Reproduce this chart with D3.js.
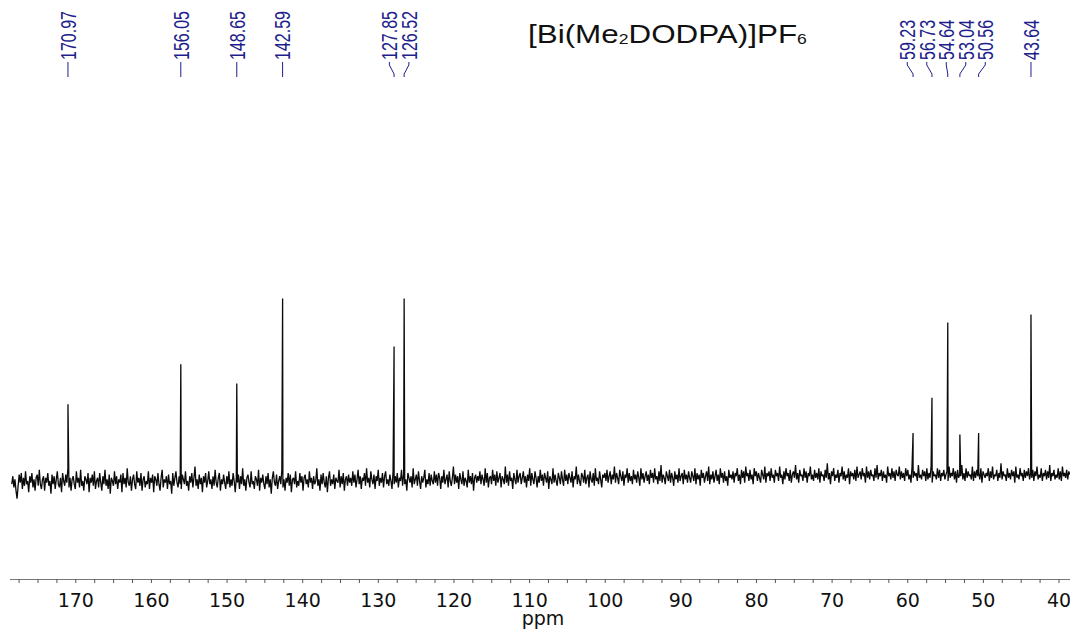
<!DOCTYPE html>
<html>
<head>
<meta charset="utf-8">
<script src="https://cdn.jsdelivr.net/npm/d3@7"></script>
<style>
  body { margin: 0; background: #fff; }
  svg { display: block; }
</style>
</head>
<body>
<svg id="chart" width="1070" height="632"></svg>
<script>
// peaks (ppm, height above baseline in intensity units)
const peakPpm = [170.97, 156.05, 148.65, 142.59, 127.85, 126.52, 59.23, 56.73, 54.64, 53.04, 50.56, 43.64];
const peakHeight = [48, 73, 61, 114, 84, 114, 30, 52, 99, 29, 30, 104];
const peakLabels = ["170.97", "156.05", "148.65", "142.59", "127.85", "126.52", "59.23", "56.73", "54.64", "53.04", "50.56", "43.64"];

const tickLabels = [170, 160, 150, 140, 130, 120, 110, 100, 90, 80, 70, 60, 50, 40];

// baseline noise, left (178.4 ppm) to right (38.5 ppm)
const noiseStart = 178.4;
const noiseEnd = 38.5;
const noise = [
  -2,3,-4,1,-6,-11,-3,4,-1,5,-5,2,-3,6,-2,0,-7,3,-1,5,-4,1,-6,2,4,-3,7,-2,-5,1,3,-6,2,-1,5,-3,0,-8,4,-2,
  3,-5,1,6,-2,-4,2,-7,5,0,-3,4,-1,8,-4,2,-6,1,3,-2,-5,6,-1,2,-4,7,-3,0,-6,3,1,-2,5,-7,2,-1,4,-3,6,-5,
  0,2,-4,5,-1,-6,3,-2,7,-3,1,-5,4,-8,2,0,-3,6,-2,3,-5,1,-1,4,-7,5,-2,2,-4,8,-1,-3,3,-6,1,4,-2,-5,6,-1,
  2,-3,5,-6,1,3,-4,0,-2,6,-5,2,-1,4,-7,3,1,-3,5,-2,-6,2,7,-4,1,-1,3,-5,4,-2,0,-8,5,-3,2,6,-1,-4,3,-2,
  -5,4,1,-2,6,-3,0,-6,3,-1,5,-4,2,9,-3,1,-5,4,-2,2,-7,3,-1,5,-4,0,6,-2,1,-5,3,-3,7,-1,-4,2,5,-6,1,-2,
  4,-1,-5,3,-2,6,-4,1,-3,5,0,-7,2,-1,4,-5,3,-2,8,-3,1,-6,2,4,-1,-4,6,-2,0,-5,3,1,-3,7,-6,2,-1,4,-2,-5,
  3,-2,5,-4,1,-8,2,6,-1,-3,4,-5,0,3,-2,7,-4,1,-6,2,-1,5,-3,4,-7,1,2,-2,6,-4,0,-3,5,-1,3,-6,2,4,-2,1,
  -4,6,-1,2,-5,3,-2,0,8,-3,1,-6,4,-2,5,-1,-4,3,-7,2,6,-3,1,-2,4,-5,2,0,-1,7,-4,3,-2,5,-6,1,3,-3,4,-1,
  2,-3,6,-1,4,-4,1,7,-2,3,-5,2,0,5,-3,8,-1,2,-4,6,1,-2,4,-5,3,0,7,-3,2,-1,5,-4,3,6,-2,1,-3,4,0,-5,
  6,-2,3,-1,5,-4,2,0,7,-3,4,-2,1,-6,5,2,-1,3,-4,8,-2,1,4,-3,6,0,-5,3,-1,2,7,-4,1,-2,5,-3,4,0,-2,6,
  -1,4,-3,5,2,-5,3,-1,7,-2,1,4,-4,6,0,-3,2,9,-2,4,-1,3,-5,5,1,-2,6,-3,2,0,-4,7,-1,3,-2,5,-6,2,4,-1,
  3,0,6,-2,4,1,-3,8,-1,5,-4,2,3,-2,7,0,4,-3,6,-1,2,5,-4,3,1,-2,9,-1,4,-3,6,0,2,-5,5,1,-2,7,-1,3,
  5,-2,2,6,-1,3,-4,4,0,8,-3,5,1,-2,6,2,-4,3,-1,7,0,4,-3,5,2,-1,6,-5,3,1,-2,8,-1,4,0,-3,5,2,-2,6,
  1,-3,7,0,4,-2,5,2,-1,6,-4,3,1,9,-2,4,0,-3,5,3,-1,7,-2,2,4,-4,6,1,-1,5,-3,8,0,2,-2,6,1,-4,4,2,
  5,0,7,-1,3,6,-2,4,1,9,-1,5,2,-2,7,3,0,6,-3,4,2,8,-1,5,0,3,-2,7,1,4,-1,6,2,-3,8,1,5,-1,3,6,
  0,4,-2,7,2,5,-1,8,1,3,-2,6,0,10,-1,4,2,-2,6,3,0,7,-1,5,2,-3,6,1,4,-1,8,0,3,5,-2,7,1,4,-1,6,
  2,-1,6,3,0,8,-2,5,1,4,-3,7,2,5,-1,3,6,0,9,-2,4,1,6,-1,3,7,0,4,-2,8,2,5,-1,6,0,3,-3,7,2,4,
  1,6,-1,5,3,8,0,4,-2,7,2,6,-1,9,3,5,0,7,1,4,-2,8,3,6,0,5,2,-1,7,4,1,9,-1,5,3,6,0,8,2,4,
  -1,7,3,5,0,9,2,4,-2,6,1,8,3,5,0,7,-1,4,6,2,10,1,5,-1,7,3,4,0,8,2,6,-1,5,3,9,1,4,0,7,2,
  5,1,8,-1,6,3,4,0,7,2,11,1,5,-2,6,3,8,0,4,2,7,-1,5,3,9,1,6,0,4,2,8,-2,6,3,5,1,7,0,9,2,
  4,6,1,8,3,5,-1,9,2,6,1,7,3,4,0,8,2,10,1,5,3,7,0,6,2,4,-1,9,3,5,1,8,2,6,0,7,4,3,9,1,
  6,2,5,0,8,3,7,1,4,-1,9,2,6,3,5,0,10,2,4,1,7,3,6,0,8,1,5,2,9,-1,6,3,4,1,8,2,7,0,5,3,
  7,1,4,6,0,9,2,5,3,8,1,6,-1,7,2,4,3,10,1,5,0,8,2,6,3,4,1,9,0,6,2,7,3,5,1,8,-1,6,4,2,
  5,3,8,0,6,2,9,1,4,3,7,0,5,2,11,1,6,3,4,0,8,2,5,1,7,3,6,-1,9,2,4,1,8,3,5,0,7,2,6,3,
  8,1,5,2,7,0,6,3,9,1,4,2,8,0,5,3,7,1,6,2,10,0,5,3,7,1,4,2,8,1,6,0,9,3,5,2,7,1,6,4
];

const titleText = [
  { t: "[Bi(Me", sub: false },
  { t: "2", sub: true },
  { t: "DODPA)]PF", sub: false },
  { t: "6", sub: true }
];

const W = 1070, H = 632;
const labelColor = "#1e1e8c";

const svg = d3.select("#chart");

const x = d3.scaleLinear().domain([170, 40]).range([75.3, 1058.5]);
const y = d3.scaleLinear().domain([0, 100]).range([481, 321]);

// build spectrum: noise points plus the peak tops, sorted by ppm
const step = (noiseStart - noiseEnd) / (noise.length - 1);
const spectrum = noise.map((v, i) => ({ ppm: noiseStart - i * step, v: v }));
peakPpm.forEach((p, i) => spectrum.push({ ppm: p, v: peakHeight[i] }));
spectrum.sort((a, b) => b.ppm - a.ppm);

const line = d3.line().x(d => x(d.ppm)).y(d => y(d.v));

svg.append("path")
  .datum(spectrum)
  .attr("fill", "none")
  .attr("stroke", "#0a0a0a")
  .attr("stroke-width", 1.3)
  .attr("stroke-linejoin", "bevel")
  .attr("d", line);

// axis
const axisY = 579;
svg.append("line")
  .attr("x1", 10).attr("x2", W)
  .attr("y1", axisY + 0.5).attr("y2", axisY + 0.5)
  .attr("stroke", "#777")
  .attr("stroke-width", 1);

const axis = d3.axisBottom(x)
  .tickValues(d3.range(40, 178, 2.5))
  .tickSize(4)
  .tickPadding(11)
  .tickFormat(d => tickLabels.includes(d) ? d : "");

const gAxis = svg.append("g")
  .attr("transform", `translate(0, ${axisY})`)
  .call(axis);

gAxis.select(".domain").remove();
gAxis.selectAll(".tick line").attr("stroke", "#555");
gAxis.selectAll(".tick text")
  .attr("fill", "#111")
  .style("font-family", "'DejaVu Sans', Verdana, sans-serif")
  .style("font-size", "19px");

svg.append("text")
  .attr("x", 543)
  .attr("y", 625)
  .attr("text-anchor", "middle")
  .attr("fill", "#111")
  .style("font-family", "'DejaVu Sans', Verdana, sans-serif")
  .style("font-size", "19px")
  .text("ppm");

// peak labels, spread apart where they crowd
function spreadLabels(xs, gap) {
  let groups = xs.map(v => ({ members: [v], c: v }));
  let merged = true;
  while (merged) {
    merged = false;
    for (let i = 0; i < groups.length - 1; i++) {
      const a = groups[i], b = groups[i + 1];
      const aEnd = a.c + (a.members.length - 1) * gap / 2;
      const bStart = b.c - (b.members.length - 1) * gap / 2;
      if (bStart - aEnd < gap) {
        const members = a.members.concat(b.members);
        groups.splice(i, 2, { members: members, c: d3.mean(members) });
        merged = true;
        break;
      }
    }
  }
  const out = [];
  groups.forEach(g => g.members.forEach((m, k) => out.push(g.c + (k - (g.members.length - 1) / 2) * gap)));
  return out;
}

const peakX = peakPpm.map(p => x(p));
const labelX = spreadLabels(peakX, 19.5);

const gLab = svg.append("g");
peakLabels.forEach((lab, i) => {
  gLab.append("text")
    .attr("transform", `translate(${labelX[i]}, 60) scale(1.35, 1) rotate(-90)`)
    .attr("dy", "0.36em")
    .attr("fill", labelColor)
    .style("font-family", "'Liberation Sans', Arial, sans-serif")
    .style("font-size", "16px")
    .text(lab);

  const lx = labelX[i], px = peakX[i];
  gLab.append("path")
    .attr("d", `M${lx},62 L${lx},65 L${px},74 L${px},77`)
    .attr("fill", "none")
    .attr("stroke", labelColor)
    .attr("stroke-width", 1);
});

// title
const title = svg.append("text")
  .attr("fill", "#111")
  .style("font-family", "'Liberation Sans', Arial, sans-serif")
  .style("font-size", "25px");

titleText.forEach(part => {
  const ts = title.append("tspan").text(part.t);
  if (part.sub) ts.style("font-size", "14px").attr("dy", 1);
  else ts.attr("dy", part === titleText[0] ? 0 : -1);
});

const natural = title.node().getComputedTextLength();
title.attr("transform", `translate(528, 43) scale(${279 / natural}, 1)`);
</script>
</body>
</html>
